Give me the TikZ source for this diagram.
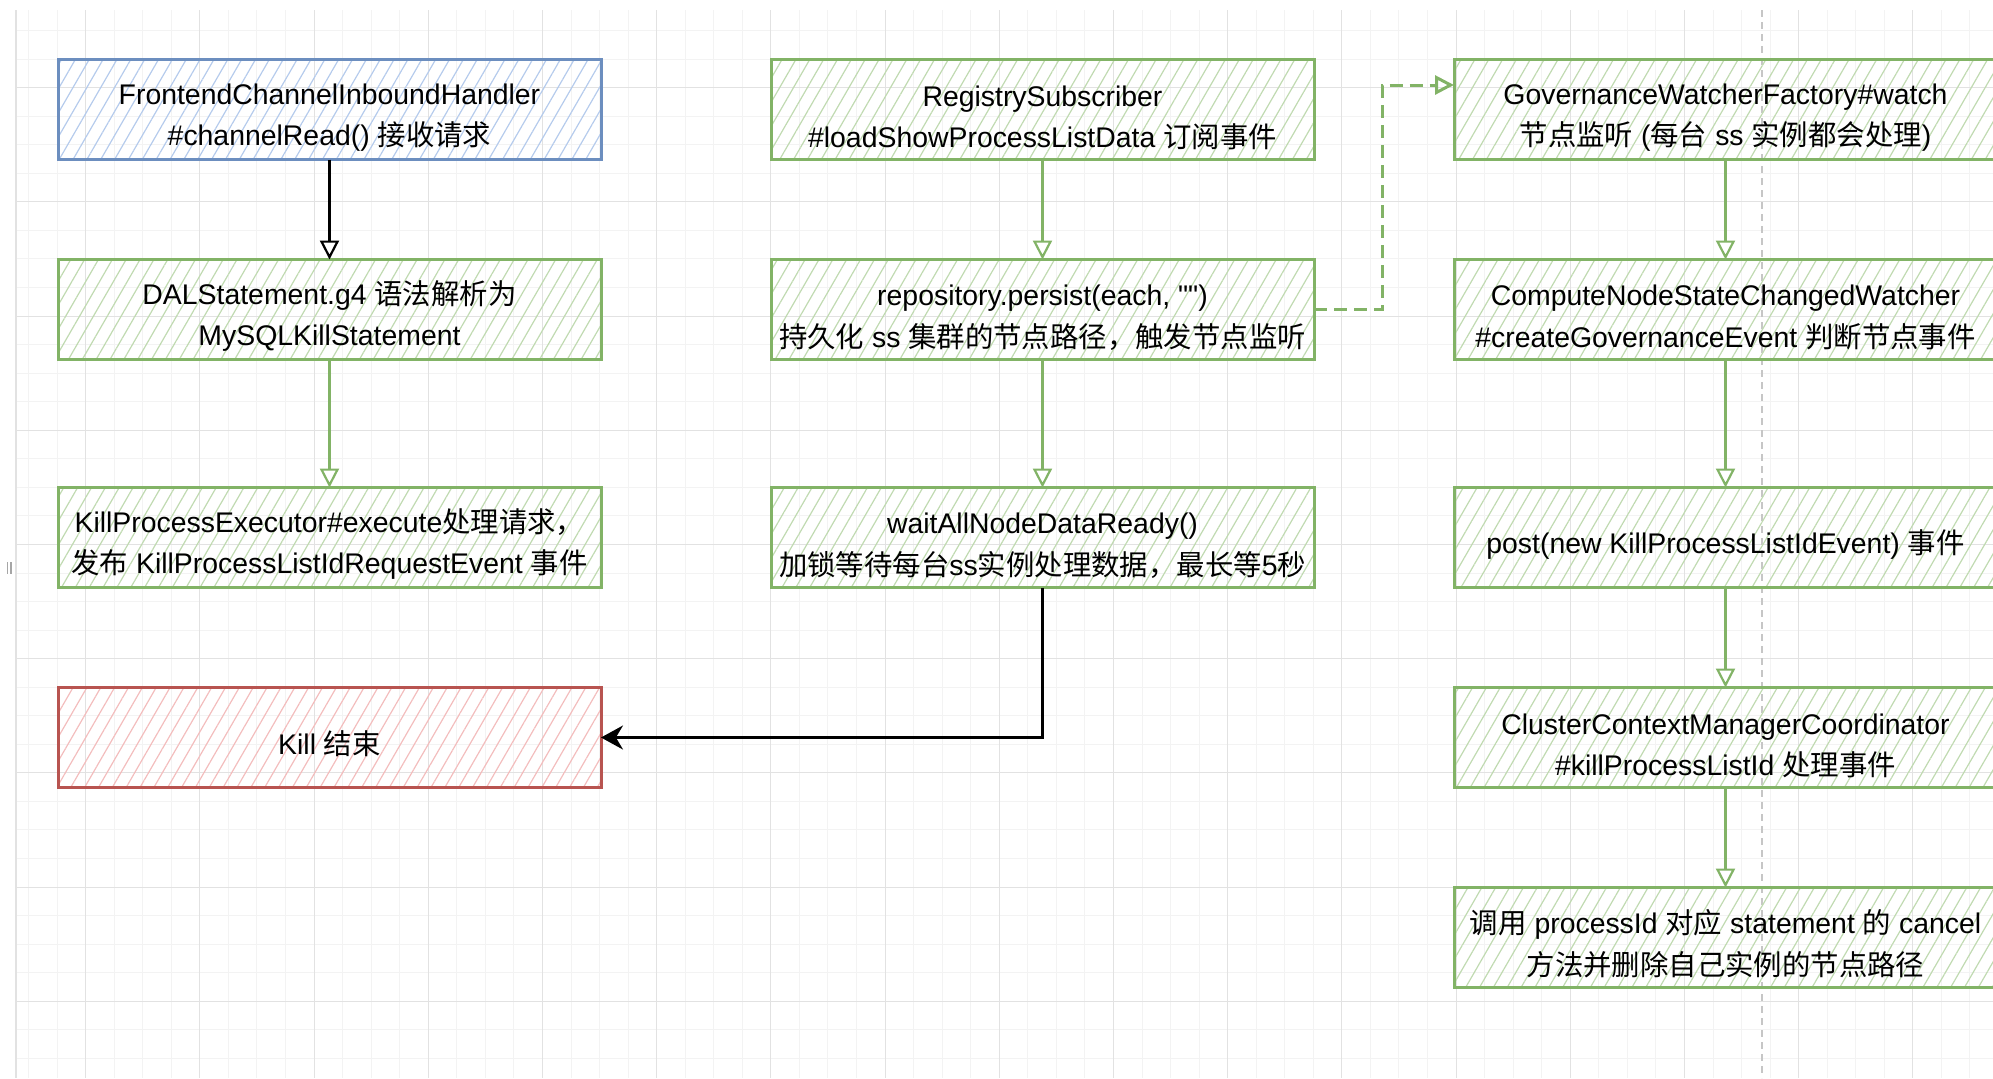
\documentclass[tikz,border=0pt]{standalone}
\usepackage{fontspec}
\setmainfont{Liberation Sans}
\newfontfamily\rawfont{Liberation Sans}[Ligatures=TeXOff]
\newfontfamily\cjk{Noto Sans CJK SC}
\newcommand{\zh}[1]{{\cjk #1}}
\newcommand{\topgap}{\rule{0pt}{18.5pt}}
\usetikzlibrary{positioning,arrows.meta,patterns.meta}
\definecolor{blueline}{HTML}{6C8EBF}
\definecolor{bluehatch}{HTML}{B5CBEC}
\definecolor{greenline}{HTML}{82B366}
\definecolor{greenhatch}{HTML}{C0DAB1}
\definecolor{redline}{HTML}{B85450}
\definecolor{redhatch}{HTML}{F3BDBD}
\definecolor{gridminor}{HTML}{F3F3F3}
\definecolor{gridmajor}{HTML}{E2E2E2}

\begin{document}
\begin{tikzpicture}[
  x=0.5pt,y=-0.5pt,
  every node/.style={minimum width=271.5pt,minimum height=50pt,inner sep=0pt,outer sep=0pt,
    align=center,line width=1.5pt,font=\fontsize{14.2pt}{20.8pt}\selectfont},
  blue box/.style={draw=blueline,pattern={Lines[angle=60,distance=6pt,line width=0.6pt]},pattern color=bluehatch},
  green box/.style={draw=greenline,pattern={Lines[angle=60,distance=6pt,line width=0.6pt]},pattern color=greenhatch},
  red box/.style={draw=redline,pattern={Lines[angle=60,distance=6pt,line width=0.6pt]},pattern color=redhatch},
  flow/.style={draw=greenline,line width=1.1pt,-{Triangle[open,length=9.5pt,width=9.5pt]}},
  dash flow/.style={flow,line width=1.5pt,dash pattern=on 6.5pt off 3.5pt},
  end flow/.style={draw=black,line width=1.1pt,-{Stealth[length=11pt,width=12pt]}},
  ]
  \useasboundingbox (0,0) rectangle (1993,1078);
  % background grid
  \foreach \k in {1,...,69} \draw[gridminor,line width=0.5pt] (28.55*\k,10) -- (28.55*\k,1078);
  \foreach \k in {1,...,37} \draw[gridminor,line width=0.5pt] (16,2+28.55*\k) -- (1993,2+28.55*\k);
  \foreach \k in {3,7,...,67} \draw[gridmajor,line width=0.5pt] (28.55*\k,10) -- (28.55*\k,1078);
  \foreach \k in {3,7,...,35} \draw[gridmajor,line width=0.5pt] (16,2+28.55*\k) -- (1993,2+28.55*\k);
  \draw[gridmajor,line width=0.6pt] (16,10) -- (16,1078);
  \draw[gray!45,line width=0.6pt,dash pattern=on 3.5pt off 2.5pt] (1762,10) -- (1762,1078);
  \draw[gray!70,line width=0.6pt] (7.5,562) -- (7.5,574) (11,562) -- (11,574);

  \node[blue box] (frontend) at (329.5,109.5) {\topgap FrontendChannelInboundHandler\\\#channelRead() \zh{接收请求}};
  \node[green box,below=50pt of frontend] (dalparse) {\topgap DALStatement.g4 \zh{语法解析为}\\MySQLKillStatement};
  \node[green box,below=64pt of dalparse] (killexec) {\topgap KillProcessExecutor\#execute\zh{处理请求，}\\\zh{发布} KillProcessListIdRequestEvent \zh{事件}};
  \node[red box,below=50pt of killexec] (killend) {\topgap Kill \zh{结束}};

  \node[green box,right=85pt of frontend] (subscriber) {\topgap RegistrySubscriber\\\#loadShowProcessListData \zh{订阅事件}};
  \node[green box,below=50pt of subscriber] (persist) {\topgap repository.persist(each, {\rawfont ""})\\\zh{持久化} ss \zh{集群的节点路径，触发节点监听}};
  \node[green box,below=64pt of persist] (waitready) {\topgap waitAllNodeDataReady()\\\zh{加锁等待每台}ss\zh{实例处理数据，最长等}5\zh{秒}};

  \node[green box,right=70pt of subscriber] (watcher) {\topgap GovernanceWatcherFactory\#watch\\\zh{节点监听} (\zh{每台} ss \zh{实例都会处理})};
  \node[green box,below=50pt of watcher] (statechanged) {\topgap ComputeNodeStateChangedWatcher\\\#createGovernanceEvent \zh{判断节点事件}};
  \node[green box,below=64pt of statechanged] (postevent) {\topgap post(new KillProcessListIdEvent) \zh{事件}};
  \node[green box,below=50pt of postevent] (coordinator) {\topgap ClusterContextManagerCoordinator\\\#killProcessListId \zh{处理事件}};
  \node[green box,below=50pt of coordinator] (cancel) {\topgap\zh{调用} processId \zh{对应} statement \zh{的} cancel\\\zh{方法并删除自己实例的节点路径}};

  \path[flow,draw=black] (frontend) edge (dalparse);
  \path[flow]
  (dalparse) edge (killexec)
  (subscriber) edge (persist)
  (persist) edge (waitready)
  (watcher) edge (statechanged)
  (statechanged) edge (postevent)
  (postevent) edge (coordinator)
  (coordinator) edge (cancel);
  \draw[dash flow] (persist.east) -- ++(34pt,0) |- ([yshift=12.25pt]watcher.west);
  \draw[end flow] (waitready) |- (killend);
\end{tikzpicture}
\end{document}
